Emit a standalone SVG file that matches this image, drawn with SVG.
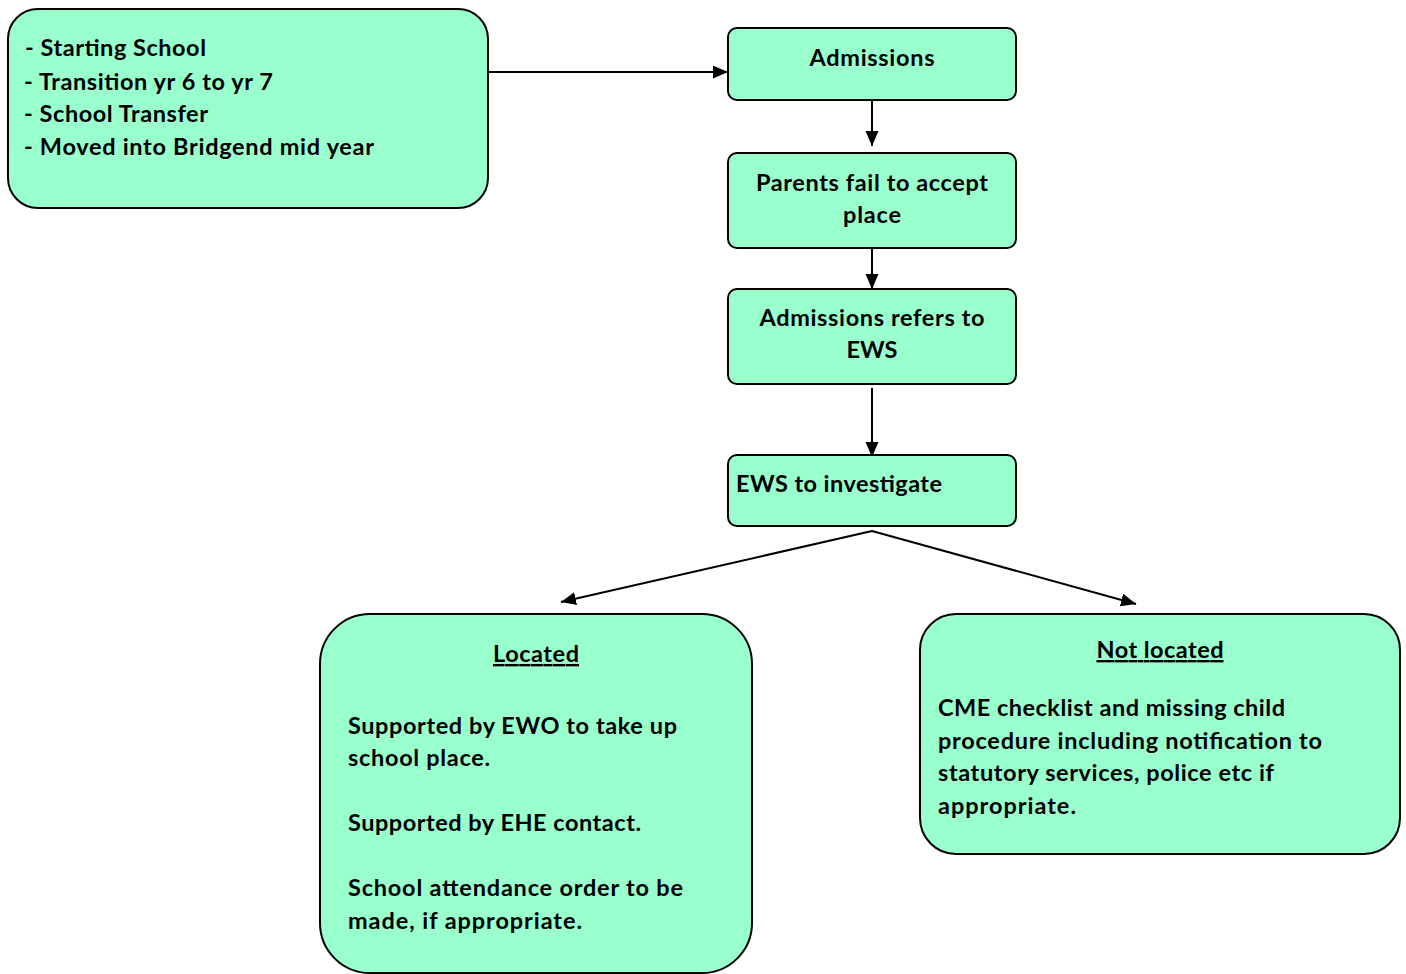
<svg xmlns="http://www.w3.org/2000/svg" width="1406" height="974" viewBox="0 0 1406 974">
<style>
.box{fill:#99FFCC;stroke:#000;stroke-width:2}
.t{font-family:Lato,"Open Sans","Liberation Sans",sans-serif;font-weight:700;font-size:23.5px;fill:#000}
.c{text-anchor:middle}
.u{text-decoration:underline}
.edge{stroke:#000;stroke-width:2;fill:none;marker-end:url(#arr)}
</style>
<defs>
<marker id="arr" markerUnits="userSpaceOnUse" markerWidth="16" markerHeight="14" refX="15" refY="6.5" orient="auto">
<path d="M0,0 L15,6.5 L0,13 z" fill="#000"/>
</marker>
</defs>
<rect width="1406" height="974" fill="#fff"/>
<g id="connectors">
<path class="edge" d="M488,72 L728,72"/>
<path class="edge" d="M872,97 L872,146"/>
<path class="edge" d="M872,243 L872,289"/>
<path class="edge" d="M872,388 L872,457"/>
<path class="edge" d="M872,531 L561,602"/>
<path class="edge" d="M872,531 L1136,604"/>
</g>
<g id="n-start">
<rect class="box" x="8" y="9" width="480" height="199" rx="30"/>
<text class="t" x="25" y="56" textLength="181">-  Starting School</text>
<text class="t" x="24" y="90" textLength="249">- Transition yr 6 to yr 7</text>
<text class="t" x="24" y="122" textLength="184">- School Transfer</text>
<text class="t" x="24" y="155" textLength="350">- Moved into Bridgend mid year</text>
</g>
<g id="n-admissions">
<rect class="box" x="728" y="28" width="288" height="72" rx="9"/>
<text class="t c" x="872" y="66" textLength="125">Admissions</text>
</g>
<g id="n-parents">
<rect class="box" x="728" y="153" width="288" height="95" rx="9"/>
<text class="t c" x="872" y="191" textLength="232">Parents fail to accept</text>
<text class="t c" x="872" y="223" textLength="58">place</text>
</g>
<g id="n-refers">
<rect class="box" x="728" y="289" width="288" height="95" rx="9"/>
<text class="t c" x="872" y="326" textLength="225">Admissions refers to</text>
<text class="t c" x="872" y="358">EWS</text>
</g>
<g id="n-ews">
<rect class="box" x="728" y="455" width="288" height="71" rx="9"/>
<text class="t" x="736" y="492" textLength="206">EWS to investigate</text>
</g>
<g id="n-located">
<rect class="box" x="320" y="614" width="432" height="359" rx="50"/>
<text class="t c u" x="536" y="662" textLength="86">Located</text>
<text class="t" x="348" y="734" textLength="329">Supported by EWO to take up</text>
<text class="t" x="348" y="766" textLength="142">school place.</text>
<text class="t" x="348" y="831" textLength="293">Supported by EHE contact.</text>
<text class="t" x="348" y="896" textLength="335">School attendance order to be</text>
<text class="t" x="348" y="929" textLength="234">made, if appropriate.</text>
</g>
<g id="n-notlocated">
<rect class="box" x="920" y="614" width="480" height="240" rx="36"/>
<text class="t c u" x="1160" y="658" textLength="127">Not located</text>
<text class="t" x="938" y="716" textLength="347">CME checklist and missing child</text>
<text class="t" x="938" y="749" textLength="384">procedure including notification to</text>
<text class="t" x="938" y="781" textLength="336">statutory services, police etc if</text>
<text class="t" x="938" y="814" textLength="138">appropriate.</text>
</g>
</svg>
